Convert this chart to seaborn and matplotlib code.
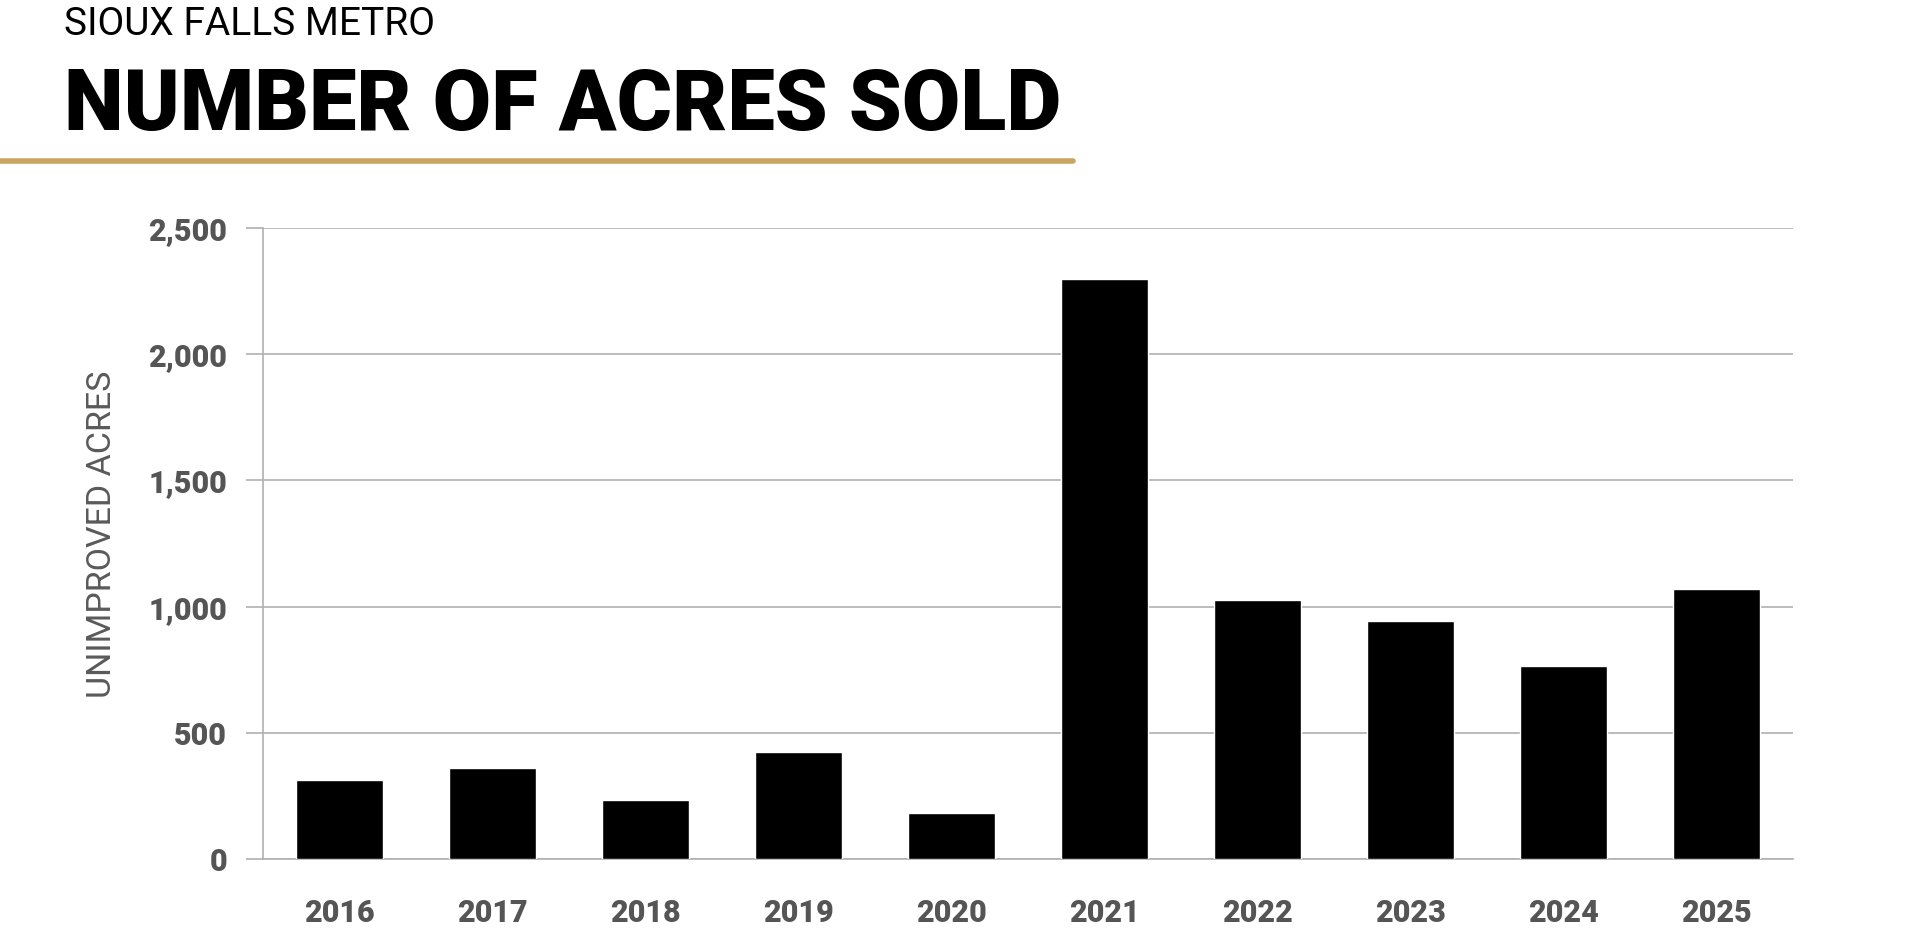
import matplotlib
matplotlib.use("Agg")
import matplotlib.pyplot as plt
import seaborn as sns
import pandas as pd

years = ["2016", "2017", "2018", "2019", "2020", "2021", "2022", "2023", "2024", "2025"]
acres = [315, 363, 233, 426, 184, 2297, 1027, 945, 766, 1071]
y_ticks = [0, 500, 1000, 1500, 2000, 2500]
y_tick_labels = ["0", "500", "1,000", "1,500", "2,000", "2,500"]

df = pd.DataFrame({"year": years, "acres": acres})

sns.set_theme(style="white")
plt.rcParams['font.family'] = ['Roboto', 'DejaVu Sans']

fig = plt.figure(figsize=(19.17, 9.30), dpi=100)
ax = fig.add_axes([0.1372, 0.076, 0.7982, 0.679])

sns.barplot(data=df, x="year", y="acres", color="black", width=0.57,
            saturation=1, ax=ax, zorder=3)

ax.set_ylim(0, 2500)
ax.set_xlim(-0.5, 9.5)
ax.set_yticks(y_ticks)
ax.set_yticklabels(y_tick_labels)
ax.yaxis.grid(True, color="#b0b0b0", linewidth=1.2, zorder=0)
ax.set_axisbelow(True)

for side in ["top", "right"]:
    ax.spines[side].set_visible(False)
ax.spines["left"].set_color("#b0b0b0")
ax.spines["bottom"].set_color("#b0b0b0")
ax.spines["left"].set_linewidth(1.2)
ax.spines["bottom"].set_linewidth(1.2)

ax.tick_params(axis="y", which="major", left=True, length=12, width=1.2,
               color="#b0b0b0", pad=14, labelsize=22, labelcolor="#555555")
ax.tick_params(axis="x", bottom=False, pad=22, labelsize=22, labelcolor="#555555")
for lbl in ax.get_xticklabels() + ax.get_yticklabels():
    lbl.set_fontweight("black")

ax.set_xlabel("")
ax.set_ylabel("UNIMPROVED ACRES", fontsize=24.5, color="#5a5a5a",
              fontweight="normal", labelpad=18)
ax.yaxis.set_label_coords(-0.095, 0.515)

fig.text(0.0334, 0.9735, "SIOUX FALLS METRO", fontsize=28, color="black",
         ha="left", va="center", fontweight="normal")
fig.text(0.0334, 0.886, "NUMBER OF ACRES SOLD", fontsize=61, color="black",
         ha="left", va="center", fontweight="black")

fig.add_artist(plt.Line2D([0, 0.5595], [0.827, 0.827], color="#C9A463",
                          linewidth=4, transform=fig.transFigure))

fig.savefig("out.png", dpi=100, facecolor="white")
